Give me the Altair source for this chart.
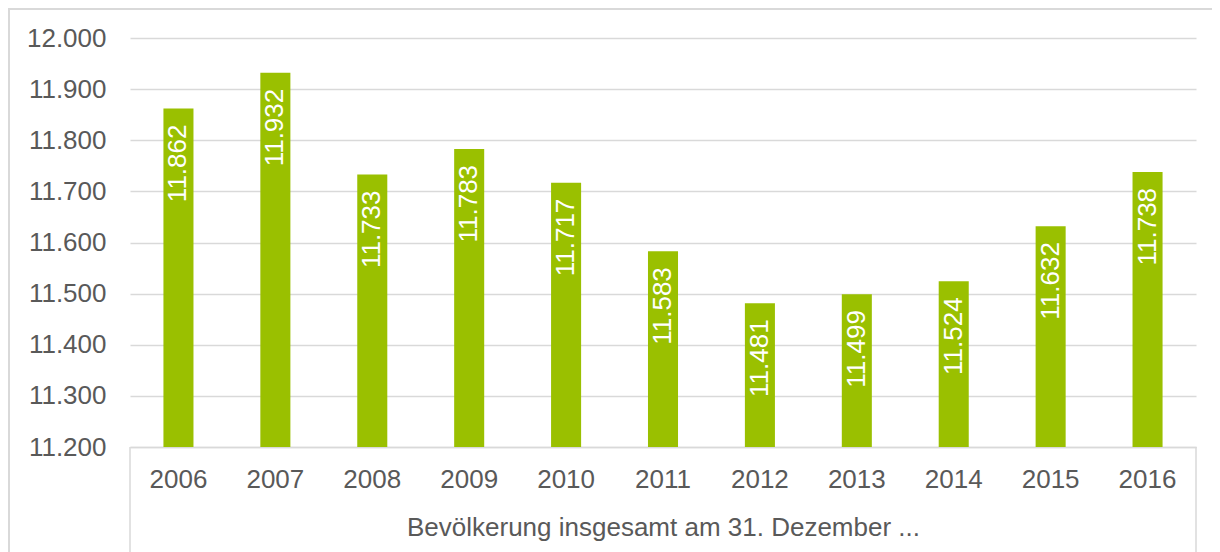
import altair as alt
import pandas as pd

years = ["2006", "2007", "2008", "2009", "2010", "2011", "2012", "2013", "2014", "2015", "2016"]
values = [11862, 11932, 11733, 11783, 11717, 11583, 11481, 11499, 11524, 11632, 11738]
y_ticks = [11200, 11300, 11400, 11500, 11600, 11700, 11800, 11900, 12000]
axis_title = "Bevölkerung insgesamt am 31. Dezember ..."

df = pd.DataFrame({
    "year": years,
    "value": values,
    "label": [f"{v:,}".replace(",", ".") for v in values],
})
deco = pd.DataFrame({"d": [0]})

GREEN = "#9AC000"
GREY_TXT = "#595959"
GREY_LINE = "#D9D9D9"
FONT = "Liberation Sans"

W, H = 1066, 409

x_enc = alt.X(
    "year:O",
    sort=years,
    scale=alt.Scale(paddingInner=0.69, paddingOuter=0.345),
    axis=alt.Axis(
        title=axis_title,
        labelAngle=0,
        ticks=False,
        tickSize=0,
        domainColor=GREY_LINE,
        domainWidth=1.5,
        labelFontSize=26,
        labelColor=GREY_TXT,
        labelFont=FONT,
        labelPadding=19,
        titleFontSize=26,
        titleFont=FONT,
        titleFontWeight="normal",
        titleColor=GREY_TXT,
        titlePadding=22,
    ),
)
y_enc = alt.Y(
    "value:Q",
    scale=alt.Scale(domain=[11200, 12000], zero=False, nice=False),
    axis=alt.Axis(
        values=y_ticks,
        labelExpr="replace(format(datum.value, ','), ',', '.')",
        title=None,
        domain=False,
        ticks=False,
        tickSize=0,
        labelFontSize=26,
        labelFont=FONT,
        labelColor=GREY_TXT,
        labelPadding=24,
        gridColor=GREY_LINE,
        gridWidth=1.5,
    ),
)

bars = alt.Chart(df).mark_bar(color=GREEN).encode(
    x=x_enc,
    y=y_enc,
    y2=alt.datum(11200),
)

labels = alt.Chart(df).mark_text(
    angle=270, align="right", baseline="middle", dx=-16,
    color="white", fontSize=26, font=FONT,
).encode(
    x=alt.X("year:O", sort=years),
    y=alt.Y("value:Q"),
    text="label:N",
)

left_rule = alt.Chart(deco).mark_rule(color=GREY_LINE, strokeWidth=1.5).encode(
    x=alt.value(0), y=alt.value(H), y2=alt.value(H + 110)
)
right_rule = alt.Chart(deco).mark_rule(color=GREY_LINE, strokeWidth=1.5).encode(
    x=alt.value(W), y=alt.value(H), y2=alt.value(H + 110)
)
frame = alt.Chart(deco).mark_rect(
    fillOpacity=0, stroke=GREY_LINE, strokeWidth=2
).encode(
    x=alt.value(-121), x2=alt.value(1120), y=alt.value(-29), y2=alt.value(H + 140)
)

chart = alt.layer(frame, bars, labels, left_rule, right_rule).properties(
    width=W,
    height=H,
    padding={"left": 122, "top": 30, "right": 16, "bottom": 105},
    autosize=alt.AutoSizeParams(type="none"),
    background="white",
).configure_view(strokeWidth=0)

chart.save("out.html", embed_options={"renderer": "svg", "actions": False})
